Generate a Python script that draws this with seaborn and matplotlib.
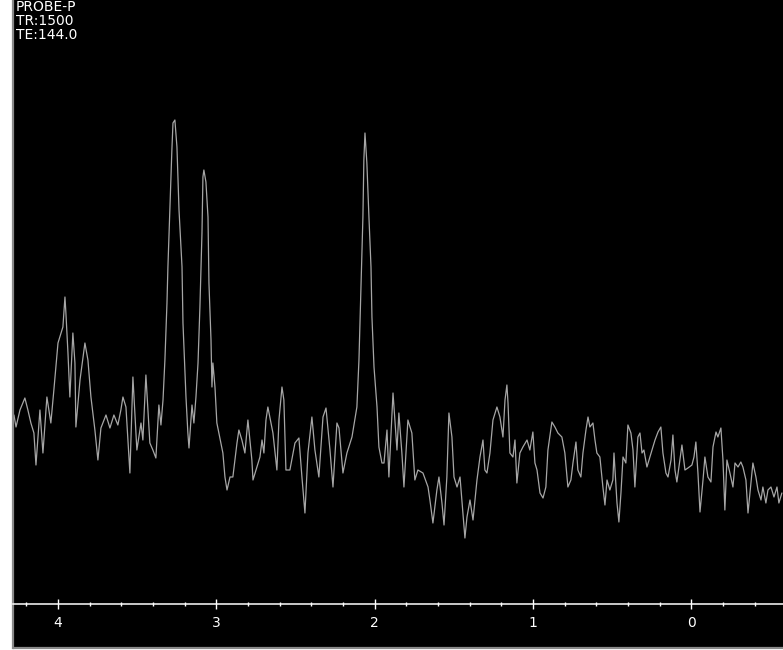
import matplotlib
matplotlib.use("Agg")
import matplotlib.pyplot as plt
from matplotlib.ticker import FixedLocator, MultipleLocator
import pandas as pd
import seaborn as sns

# spectrum, from left (high ppm) to right
ppm_a = [4.277, 4.264, 4.239, 4.208, 4.189, 4.170, 4.151, 4.138, 4.113, 4.094,
         4.069, 4.044, 4.025, 3.999, 3.980, 3.968, 3.955, 3.949, 3.936, 3.924,
         3.905, 3.892, 3.886, 3.860, 3.829, 3.810, 3.791, 3.766, 3.747, 3.728,
         3.696, 3.671, 3.646, 3.621, 3.602, 3.589, 3.570, 3.545, 3.526, 3.501,
         3.475]
sig_a = [185, 173, 190, 202, 190, 177, 167, 135, 190, 147,
         203, 177, 210, 257, 267, 273, 303, 287, 247, 203,
         267, 237, 173, 220, 257, 240, 203, 170, 140, 172,
         185, 172, 185, 175, 190, 203, 193, 127, 223, 150,
         177]

# Cho / Cr region
ppm_b = [3.463, 3.444, 3.431, 3.419, 3.400, 3.381, 3.362, 3.349, 3.336, 3.324,
         3.311, 3.305, 3.292, 3.280, 3.273, 3.261, 3.248, 3.235, 3.216, 3.210,
         3.191, 3.179, 3.172, 3.153, 3.141, 3.128, 3.115, 3.103, 3.090, 3.084,
         3.078, 3.065, 3.052, 3.046, 3.033, 3.027, 3.021, 3.008, 2.996, 2.977,
         2.958, 2.945, 2.932, 2.913, 2.895, 2.869, 2.857, 2.838, 2.819, 2.800,
         2.775, 2.768, 2.743, 2.724, 2.711, 2.699, 2.686, 2.674]
sig_b = [160, 225, 190, 157, 150, 142, 195, 175, 200, 240,
         297, 333, 393, 450, 477, 480, 453, 390, 333, 277,
         203, 167, 152, 195, 177, 203, 237, 293, 367, 423,
         430, 418, 383, 317, 260, 213, 237, 213, 177, 162,
         147, 123, 110, 123, 123, 157, 170, 160, 147, 180,
         140, 120, 133, 143, 160, 147, 180, 193]

# NAA region
ppm_c = [2.642, 2.617, 2.604, 2.585, 2.573, 2.560, 2.535, 2.503, 2.478, 2.459,
         2.440, 2.421, 2.396, 2.377, 2.352, 2.326, 2.307, 2.282, 2.263, 2.238,
         2.225, 2.200, 2.175, 2.143, 2.112, 2.099, 2.086, 2.074, 2.068, 2.061,
         2.049, 2.036, 2.023, 2.017, 2.004, 1.985, 1.973, 1.954, 1.941, 1.922,
         1.910, 1.884, 1.859, 1.847, 1.828, 1.815, 1.790, 1.765, 1.746, 1.727,
         1.695, 1.663]
sig_c = [167, 130, 180, 213, 200, 130, 130, 157, 162, 123,
         87, 147, 183, 150, 123, 183, 192, 150, 113, 177,
         172, 127, 147, 163, 193, 240, 313, 383, 440, 467,
         437, 383, 333, 283, 233, 193, 153, 137, 137, 170,
         123, 207, 150, 187, 147, 113, 180, 167, 120, 130,
         127, 113]

ppm_d = [1.651, 1.632, 1.607, 1.594, 1.575, 1.562, 1.544, 1.531, 1.512, 1.499,
         1.480, 1.461, 1.443, 1.430, 1.417, 1.398, 1.379, 1.354, 1.335, 1.316,
         1.304, 1.291, 1.272, 1.253, 1.228, 1.209, 1.190, 1.177, 1.165, 1.158,
         1.146, 1.127, 1.114, 1.102, 1.083, 1.064, 1.038, 1.020, 1.001, 0.988,
         0.975, 0.956, 0.937, 0.919, 0.906, 0.881, 0.862, 0.843, 0.818, 0.799,
         0.780, 0.761, 0.748, 0.729, 0.717, 0.698, 0.685, 0.666, 0.653]
sig_d = [100, 77, 110, 123, 97, 75, 123, 187, 163, 123,
         113, 123, 87, 62, 83, 100, 80, 120, 143, 160,
         130, 127, 147, 180, 193, 183, 163, 200, 215, 197,
         147, 143, 160, 117, 147, 153, 160, 150, 168, 137,
         130, 107, 102, 113, 150, 178, 173, 167, 163, 147,
         113, 120, 137, 158, 130, 123, 147, 170, 183]

ppm_e = [0.641, 0.622, 0.609, 0.597, 0.578, 0.559, 0.546, 0.533, 0.515, 0.496,
         0.489, 0.470, 0.458, 0.445, 0.432, 0.414, 0.401, 0.382, 0.369, 0.357,
         0.338, 0.325, 0.312, 0.300, 0.281, 0.268, 0.249, 0.230, 0.211, 0.193,
         0.180, 0.161, 0.148, 0.129, 0.117, 0.104, 0.092, 0.073, 0.060, 0.041,
         0.022, -0.003, -0.016, -0.028, -0.041, -0.054, -0.073, -0.085, -0.104, -0.123,
         -0.136, -0.155, -0.167, -0.186, -0.199, -0.211, -0.224, -0.243, -0.262, -0.275,
         -0.294, -0.312, -0.325, -0.344, -0.357, -0.376, -0.388, -0.407, -0.420, -0.439,
         -0.451, -0.470, -0.483, -0.502, -0.521, -0.540, -0.552, -0.571]
sig_e = [173, 177, 160, 147, 143, 113, 95, 120, 110, 120,
         147, 97, 78, 107, 143, 137, 175, 167, 150, 113,
         163, 167, 147, 150, 133, 140, 150, 160, 168, 173,
         147, 127, 123, 140, 165, 130, 118, 140, 155, 130,
         132, 135, 143, 158, 127, 88, 120, 143, 123, 118,
         153, 168, 163, 172, 140, 90, 140, 127, 113, 137,
         133, 138, 133, 120, 87, 117, 137, 123, 110, 100,
         113, 97, 110, 113, 103, 113, 97, 107]

header_lines = ["PROBE-P", "TR:1500", "TE:144.0"]
major_ticks = [4, 3, 2, 1, 0]
tick_labels = ["4", "3", "2", "1", "0"]

spec = pd.DataFrame({
    "ppm": ppm_a + ppm_b + ppm_c + ppm_d + ppm_e,
    "signal": sig_a + sig_b + sig_c + sig_d + sig_e,
})

sns.set_style("dark", {"axes.facecolor": "black"})
plt.rcParams["font.family"] = ["DejaVu Sans"]

fig = plt.figure(figsize=(7.83, 6.5), dpi=100, facecolor="white")
ax = fig.add_axes([13 / 783, 2 / 650, 770 / 783, 648 / 650])
ax.set_facecolor("black")

sns.lineplot(data=spec, x="ppm", y="signal", ax=ax, color="#a6a6a6",
             linewidth=0.9, estimator=None, sort=False)

ax.set_xlim(4.283, -0.578)
ax.set_ylim(-48, 600)
ax.set_xlabel("")
ax.set_ylabel("")
ax.set_yticks([])
ax.grid(False)

# ppm scale drawn inside the black panel
ax.spines["bottom"].set_position(("axes", 44 / 648))
ax.spines["bottom"].set_color("white")
ax.spines["bottom"].set_linewidth(1.1)
ax.spines["top"].set_visible(False)
ax.spines["right"].set_visible(False)
ax.spines["left"].set_color("#8a8a8a")
ax.spines["left"].set_linewidth(1.6)
ax.plot([0, 1], [0, 0], transform=ax.transAxes, color="#8a8a8a",
        linewidth=1.6, clip_on=False)

ax.xaxis.set_major_locator(FixedLocator(major_ticks))
ax.set_xticklabels(tick_labels)
ax.xaxis.set_minor_locator(MultipleLocator(0.2))
ax.tick_params(axis="x", which="major", direction="inout", length=7.5,
               width=1.0, color="white", labelcolor="white", labelsize=10, pad=5)
ax.tick_params(axis="x", which="minor", direction="inout", length=3.5,
               width=1.0, color="white")
ax.tick_params(axis="x", which="both", bottom=True)

# header text in the top-left corner
for i, line in enumerate(header_lines):
    fig.text(16 / 783, 1 - (11 + 14 * i) / 650, line, color="white",
             fontsize=10, va="baseline", ha="left")

fig.savefig("out.png", dpi=100, facecolor="white")
